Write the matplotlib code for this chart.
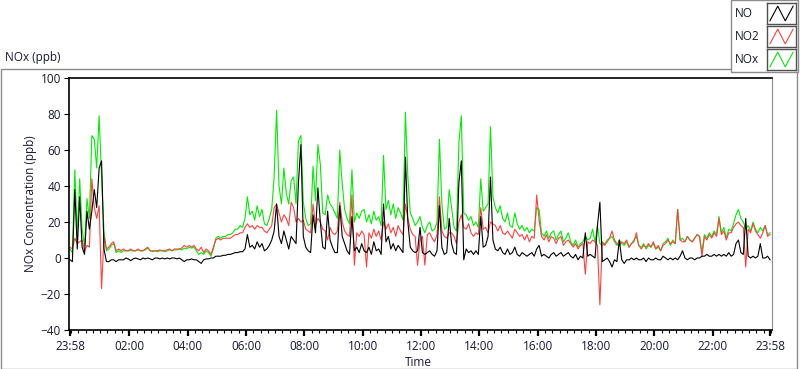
"""
NOx (ppb) strip chart: NO, NO2 and NOx over one day, 23:58 to 23:58,
read off a LabVIEW front panel at 5-minute steps.

Output: out.png (800 x 369)
"""

import matplotlib
matplotlib.use("Agg")
import matplotlib.pyplot as plt
import matplotlib.dates as mdates
from matplotlib.patches import Rectangle
import pandas as pd

# one row per hour, starting 23:58 (12 samples each, last row has the closing point)
no = [
    -1, -2, 38, 5, 34, 6, 2, 26, 16, 26, 38, 28,
    50, 54, 5, -2, -2, -1, -1, -2, -1, -1, -1, 0,
    -0.5, -1.5, -0.5, 0, -0.5, -1, 0, -0.5, 0, -0.5, -1, 0,
    0, -0.5, 0, -0.5, 0, -0.5, 0, 0, -0.5, 0, -1, -2,
    -1, -1, -0.5, -1, -1, -2, -3, -1, -0.5, -0.5, 0, 0,
    1, 1, 1, 1.5, 1.5, 2, 2, 2.5, 3, 3, 3.5, 3.5,
    5, 13, 6, 7, 5, 9, 6, 8, 4, 5, 7, 10,
    15, 30, 12, 8, 15, 10, 5, 12, 10, 8, 42, 63,
    12, 6, 4, 3, 24, 14, 39, 20, 6, 5, 26, 10,
    6, 3, 3, 29, 12, 8, 4, 2, 23, 4, 6, 3,
    8, 4, 3, 6, 2, 9, 4, 5, 2, 30, 9, 12,
    5, 8, 4, 7, 5, 3, 56, 20, 6, 4, 3, 4,
    17, 3, 2, 3, 4, 2, 1, 4, 29, 6, 2, 3,
    22, 8, 3, 2, 42, 54, -1, 5, 3, 4, 2, 4,
    2, 23, 6, 7, 12, 45, 10, 5, 4, 6, 3, 2,
    5, 2, 3, 6, 2, 1, 3, 2, 1, 2, 3, 1,
    5, 7, 1, 2, 1, 0, 2, 3, 1, 2, 3, 1,
    2, 3, 1, 0, 2, -1, 1, 0, 14, 1, 2, 1,
    0, 18, 31, -2, -1, 0, -2, -5, -1, -2, 10, -1,
    -3, -1, -1, 0, -1, 0, -1, -1, 0, -2, 0, -1,
    -1, 0, -1, -1, 1, 0, -1, 0, -1, 0, -1, 1,
    4, 0, -1, 0, 0, -1, 0, 0, 1, 1, 2, 1,
    1, 2, 1, 2, 1, 2, 1, 3, 1, 2, 8, 10,
    3, 2, 22, 1, 0, 1, 0, 1, 8, 0, 0, 1, -1,
]

no2 = [
    6, 5, 11, 8, 9, 10, 4, 7, 6, 44, 28, 22,
    29, -17, 12, 5, 6, 8, 9, 4, 5, 4, 5, 4,
    4, 5, 4, 4, 5, 4, 4, 5, 6, 4, 4, 4,
    4, 4.5, 4, 4, 4.5, 5, 4, 5, 5, 5, 5.5, 7,
    6, 7, 6, 7, 5, 4, 6, 3, 5, 4, 2, 6,
    10, 11, 10, 11, 11, 11, 11, 12, 13, 13, 14, 14,
    17, 19, 17, 18, 16, 18, 17, 17, 15, 14, 16, 18,
    28, 30, 25, 20, 24, 22, 18, 31, 28, 20, 22, 20,
    21, 16, 15, 14, 30, 18, 22, 20, 16, 15, 10, 17,
    14, 13, 15, 31, 20, 15, 13, 12, 35, -4, 14, 12,
    15, 13, -5, 14, 11, 16, 12, 15, 10, 20, 16, 19,
    14, 17, 12, 18, 15, 13, 30, 22, 16, 13, 12, -4,
    10, 12, -4, 13, 14, 11, 9, 13, 34, 15, 12, 11,
    14, 14, 12, 8, 20, 24, 17, 16, 19, 14, 12, 14,
    13, 28, 16, 17, 14, 20, 19, 18, 15, 18, 14, 13,
    15, 13, 11, 16, 14, 12, 13, 10, 13, 9, 12, 11,
    35, 21, 12, 10, 13, 9, 12, 11, 8, 11, 12, 7,
    9, 10, 8, 6, 8, 5, 7, 8, -9, 9, 8, 10,
    9, 7, -26, 9, 7, 9, 11, 15, 10, 8, 7, 9,
    8, 10, 6, 8, 9, 14, 7, 5, 7, 6, 8, 6,
    9, 5, 7, 4, 7, 8, 10, 8, 9, 8, 27, 10,
    9, 9, 12, 10, 9, 11, 13, 12, 1, 12, 10, 13,
    11, 14, 12, 22, 13, 15, 10, 14, 14, 17, 19, 20,
    18, 17, -5, 16, 14, 19, 15, 13, 11, 14, 18, 12, 13,
]

nox = [
    5, 3, 49, 13, 44, 16, 7, 33, 22, 68, 66, 50,
    79, 45, 15, 4, 5, 7, 8, 3, 4, 3, 4, 4,
    4, 4, 4, 4, 4.5, 4, 4, 4.5, 5.5, 4, 3.5, 4,
    3.5, 4, 4, 3.5, 4, 4.5, 4, 4.5, 4.5, 5, 4.5, 5.5,
    5, 6, 5.5, 6, 4, 2, 3, 2, 4, 3, 1, 5,
    11, 12, 11, 12, 12, 13, 13, 14, 16, 16, 18, 17,
    22, 34, 24, 26, 21, 29, 23, 27, 19, 18, 22, 27,
    45, 82, 40, 30, 50, 36, 30, 43, 45, 30, 65, 68,
    31, 22, 18, 19, 51, 32, 63, 52, 25, 24, 35, 30,
    28, 25, 22, 60, 41, 27, 22, 19, 49, 20, 25, 22,
    26, 27, 20, 24, 19, 26, 21, 23, 18, 57, 27, 32,
    24, 30, 22, 28, 25, 21, 81, 45, 25, 22, 18, 20,
    23, 17, 14, 18, 20, 15, 16, 20, 66, 30, 16, 17,
    38, 28, 17, 15, 64, 79, 25, 24, 21, 23, 18, 20,
    17, 44, 26, 28, 30, 73, 34, 28, 25, 29, 22, 20,
    25, 18, 17, 25, 19, 16, 18, 15, 17, 14, 16, 15,
    28, 27, 14, 12, 15, 11, 14, 15, 10, 13, 15, 9,
    11, 14, 9, 7, 10, 6, 8, 9, 12, 10, 11, 16,
    9, 18, 8, 7, 8, 10, 11, 12, 9, 7, 10, 8,
    7, 9, 6, 8, 10, 12, 7, 6, 8, 5, 7, 6,
    8, 5, 6, 4, 8, 9, 11, 7, 10, 8, 27, 10,
    11, 9, 12, 10, 9, 11, 13, 12, 3, 13, 11, 14,
    12, 15, 13, 23, 14, 17, 11, 16, 15, 19, 24, 27,
    22, 20, 16, 18, 15, 20, 16, 14, 17, 15, 18, 13, 14,
]

assert len(no) == len(no2) == len(nox) == 289

series_names = ["NO", "NO2", "NOx"]
y_ticks = [-40, -20, 0, 20, 40, 60, 80, 100]

COLOR_NO = "#000000"
COLOR_NO2 = "#ff4040"
COLOR_NOX = "#00ee00"
TEXT = "#181834"
FRAME_GREY = "#8c8c8c"

W, H = 800, 369
def fx(px): return px / W
def fy(py): return 1 - py / H

plt.rcParams["font.family"] = ["Open Sans", "DejaVu Sans"]
plt.rcParams["font.size"] = 8.5

fig = plt.figure(figsize=(W / 100, H / 100), dpi=100)

# panel frame around the graph
fig.add_artist(Rectangle((fx(0.5), fy(368.5)), fx(797) - fx(0.5), fy(69.5) - fy(368.5),
                         transform=fig.transFigure, fill=False,
                         edgecolor=FRAME_GREY, lw=1, zorder=0))
fig.text(fx(5), fy(58), "NOx (ppb)", ha="left", va="center", color=TEXT, fontsize=8.5)

ax = fig.add_axes([fx(68.5), fy(330), (771.5 - 68.5) / W, (330 - 78) / H])

times = pd.date_range("2000-01-01 23:58", periods=len(no), freq="5min")
ax.plot(times, nox, color=COLOR_NOX, lw=0.8)
ax.plot(times, no2, color=COLOR_NO2, lw=0.8)
ax.plot(times, no, color=COLOR_NO, lw=0.8)

pad = pd.Timedelta(minutes=3)
ax.set_xlim(times[0] - pad, times[-1] + pad)
ax.set_ylim(-40, 100)
ax.set_yticks(y_ticks)

majors = [times[0]] + list(pd.date_range("2000-01-02 02:00", "2000-01-02 22:00", freq="2h")) + [times[-1]]
ax.set_xticks(majors)
ax.xaxis.set_major_formatter(mdates.DateFormatter("%H:%M"))
ax.xaxis.set_minor_locator(mdates.MinuteLocator(byminute=[0, 15, 30, 45]))

ax.tick_params(axis="x", which="major", length=4.5, width=1.6, pad=3, colors="black", labelcolor=TEXT)
ax.tick_params(axis="x", which="minor", length=2.5, width=0.8, colors="black")
ax.tick_params(axis="y", length=3.5, width=0.8, pad=2, colors="black", labelcolor=TEXT)

for side in ["left", "top", "bottom"]:
    ax.spines[side].set_color("black")
    ax.spines[side].set_linewidth(1.2)
ax.spines["right"].set_color(FRAME_GREY)

ax.set_xlabel("Time", color=TEXT)
ax.xaxis.set_label_coords(0.497, -0.105)
ax.set_ylabel("NOx Concentration (ppb)", color=TEXT, va="center")
ax.yaxis.set_label_coords(-(68.5 - 31) / 703, 0.5)

# legend box, top right, LabVIEW style swatches
fig.add_artist(Rectangle((fx(731), fy(72)), fx(798) - fx(731), fy(0) - fy(72),
                         transform=fig.transFigure, facecolor="white",
                         edgecolor=FRAME_GREY, lw=1, zorder=1))
for k, (name, color) in enumerate(zip(series_names, [COLOR_NO, COLOR_NO2, COLOR_NOX])):
    top = 3 + 23 * k
    fig.text(fx(735), fy(top + 10.5), name, ha="left", va="center", color=TEXT, fontsize=8.5, zorder=2)
    sw = fig.add_axes([fx(767), fy(top + 21), 29 / W, 21 / H], zorder=3)
    sw.plot([0.1, 0.37, 0.63, 0.9], [0.15, 0.85, 0.15, 0.85], color=color, lw=0.8)
    sw.set_xlim(0, 1)
    sw.set_ylim(0, 1)
    sw.set_xticks([])
    sw.set_yticks([])
    for s in sw.spines.values():
        s.set_color("#505050")
        s.set_linewidth(1)

fig.savefig("out.png", dpi=100)
